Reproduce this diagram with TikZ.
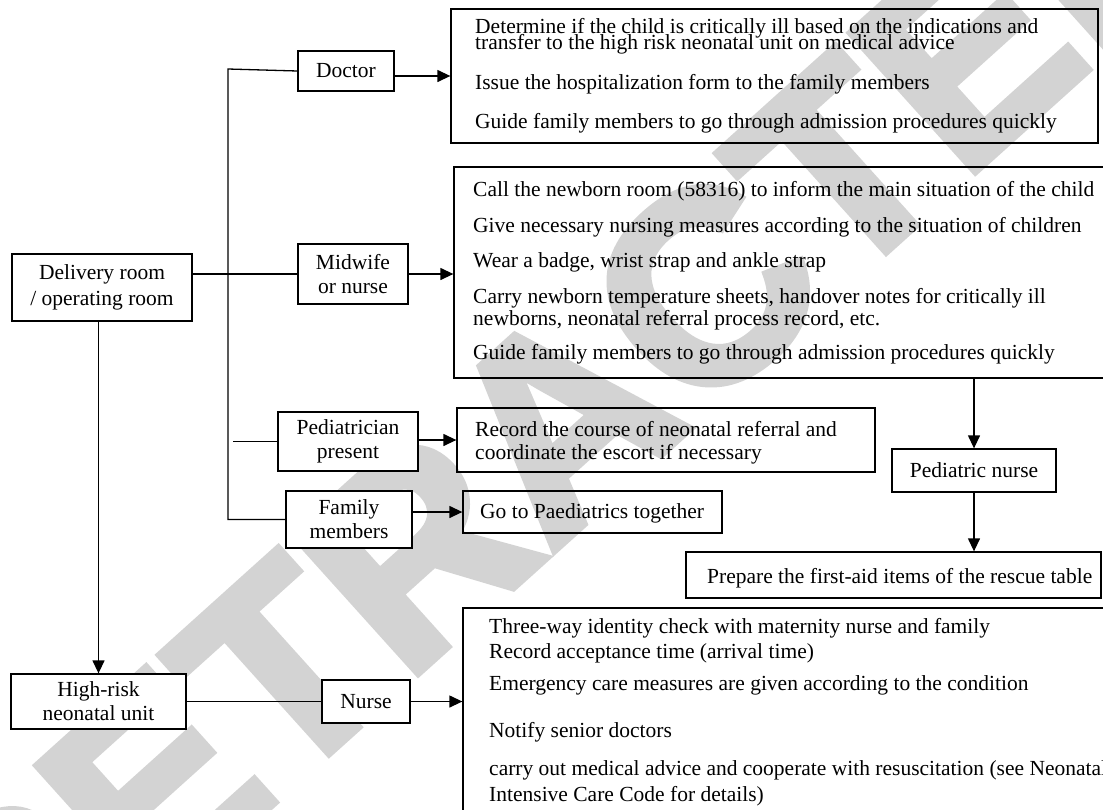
\documentclass[tikz,border=0pt]{standalone}
\usepackage{fontspec}
\setmainfont{Liberation Serif}
\newfontfamily\wmfont[FakeBold=3]{Liberation Sans Bold}
\usetikzlibrary{arrows.meta}
\definecolor{wmgray}{RGB}{211,211,211}
\begin{document}
\begin{tikzpicture}[x=1pt,y=-1pt,
  box/.style={draw, line width=1.3pt, inner sep=0pt, align=center, fill=white, font=\fontsize{21.5}{24}\selectfont},
  plainbox/.style={draw, line width=1.3pt, inner sep=0pt},
  link/.style={line width=1.3pt},
  arr/.style={line width=1.3pt, -{Triangle[length=13pt,width=12pt]}},
  txt/.style={anchor=base west, inner sep=0pt, font=\fontsize{21.5}{24}\selectfont}]
\useasboundingbox (0,0) rectangle (1103,809);
\fill[white] (0,0) rectangle (1103,809);
% watermark
\node[wmgray, rotate=42, font=\wmfont\fontsize{270}{270}\selectfont] (wm) at (560,420) {RETRACTED};
% small boxes
\node[box, minimum width=96pt, minimum height=40pt] (doctor) at (346,71) {Doctor};
\node[box, minimum width=110pt, minimum height=60pt] (midwife) at (353,274) {Midwife\\or nurse};
\node[box, minimum width=140pt, minimum height=59pt] (ped) at (348,441.5) {Pediatrician\\present};
\node[box, minimum width=126pt, minimum height=57pt] (family) at (349,519.5) {Family\\members};
\node[box, minimum width=180pt, minimum height=67pt, font=\fontsize{21.5}{26}\selectfont] (delivery) at (102,287.5) {Delivery room\\/ operating room};
\node[box, minimum width=175pt, minimum height=55pt] (hr) at (98.5,701.5) {High-risk\\neonatal unit};
\node[box, minimum width=88pt, minimum height=43pt] (nurse) at (366,701.5) {Nurse};
\node[box, minimum width=164pt, minimum height=43pt] (pnurse) at (974,470.5) {Pediatric nurse};
% detail boxes
\node[plainbox, minimum width=647pt, minimum height=134pt] (ddet) at (774.5,76) {};
\node[plainbox, minimum width=652pt, minimum height=211pt] (mdet) at (780,272.5) {};
\node[plainbox, minimum width=418pt, minimum height=64pt] (record) at (666,440) {};
\node[plainbox, minimum width=259pt, minimum height=42pt] (go) at (592.5,512) {};
\node[plainbox, minimum width=415pt, minimum height=46pt] (prep) at (893.5,575) {};
\node[plainbox, minimum width=677pt, minimum height=252pt] (ndet) at (801.5,734) {};
% texts of the doctor box (baselines)
\node[txt] (d1) at (475,33) {Determine if the child is critically ill based on the indications and};
\node[txt] (d2) at (475,49) {transfer to the high risk neonatal unit on medical advice};
\node[txt] (d3) at (475,89) {Issue the hospitalization form to the family members};
\node[txt] (d4) at (475,128) {Guide family members to go through admission procedures quickly};
% texts of the midwife box
\node[txt] (m1) at (473,196) {Call the newborn room (58316) to inform the main situation of the child};
\node[txt] (m2) at (473,232) {Give necessary nursing measures according to the situation of children};
\node[txt] (m3) at (473,267) {Wear a badge, wrist strap and ankle strap};
\node[txt] (m4) at (473,303) {Carry newborn temperature sheets, handover notes for critically ill};
\node[txt] (m5) at (473,325) {newborns, neonatal referral process record, etc.};
\node[txt] (m6) at (473,359) {Guide family members to go through admission procedures quickly};
% other texts
\node[txt] (r1) at (475,436) {Record the course of neonatal referral and};
\node[txt] (r2) at (475,459) {coordinate the escort if necessary};
\node[txt] (g1) at (480,518) {Go to Paediatrics together};
\node[txt] (p1) at (707,583) {Prepare the first-aid items of the rescue table};
\node[txt] (n1) at (489,633) {Three-way identity check with maternity nurse and family};
\node[txt] (n2) at (489,658) {Record acceptance time (arrival time)};
\node[txt] (n3) at (489,690) {Emergency care measures are given according to the condition};
\node[txt] (n4) at (489,737) {Notify senior doctors};
\node[txt] (n5) at (489,775) {carry out medical advice and cooperate with resuscitation (see Neonatal};
\node[txt] (n6) at (489,801) {Intensive Care Code for details)};
% trunk
\coordinate (trunkT) at (228,69);
\coordinate (trunkB) at (228,519.5);
\coordinate (pedstart) at (233,441.5);
\draw[link] (doctor.west) -- (trunkT) -- (trunkB) -- (family.west);
\draw[link] (pedstart) -- (ped.west);
\draw[link] (midwife.west -| delivery.east) -- (midwife.west);
\draw[arr] (hr.north |- delivery.south) -- (hr.north);
\draw[link] (hr.east) -- (nurse.west);
% arrows to detail boxes
\draw[arr] (doctor.east |- ddet.west) -- (ddet.west);
\draw[arr] (midwife.east) -- (midwife.east -| mdet.west);
\draw[arr] (ped.east |- record.west) -- (record.west);
\draw[arr] (family.east |- go.west) -- (go.west);
\draw[arr] (nurse.east) -- (nurse.east -| ndet.west);
\draw[arr] (pnurse.north |- mdet.south) -- (pnurse.north);
\draw[arr] (pnurse.south) -- (pnurse.south |- prep.north);
\end{tikzpicture}
\end{document}
